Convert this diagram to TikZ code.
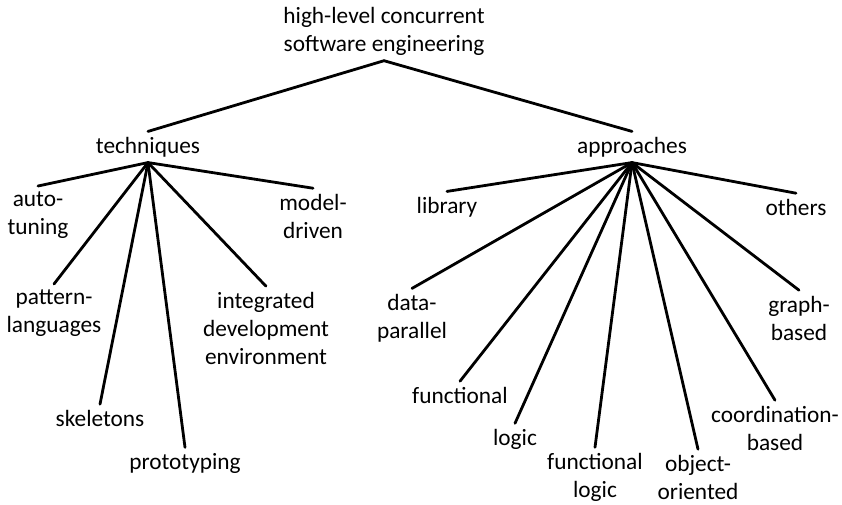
\documentclass[tikz,border=0pt]{standalone}
\usepackage{fontspec}
\setmainfont{Carlito}
\usetikzlibrary{positioning}

\begin{document}
\begin{tikzpicture}[x=0.75pt,y=-0.75pt]

    \tikzstyle{topic} = [align=center, inner sep=4pt, font=\fontsize{17.5}{21}\selectfont]
    \tikzstyle{leaf} = [topic]
    \tikzstyle{branch} = [draw, line width=2.1pt, line cap=round]

    \useasboundingbox (0,0) rectangle (842,505);

    % Root
    \node [topic] (root) at (384,31) {high-level concurrent\\software engineering};

    % Techniques
    \path (root)+(-236,116) node [topic] (tech) {techniques};
    \path (tech)+(-110,68) node [leaf] (auto) {auto-\\tuning};
    \path (tech)+(165,69) node [leaf] (model) {model-\\driven};
    \path (tech)+(-94,166) node [leaf] (pattern) {pattern-\\languages};
    \path (tech)+(118,181) node [leaf] (ide) {integrated\\development\\environment};
    \path (tech)+(-48,271) node [leaf] (skel) {skeletons};
    \path (tech)+(37,316) node [leaf] (proto) {prototyping};

    % Approaches
    \path (root)+(248,116) node [topic] (appr) {approaches};
    \path (appr)+(-185,60) node [leaf] (lib) {library};
    \path (appr)+(164,60) node [leaf] (others) {others};
    \path (appr)+(-220,171) node [leaf] (data) {data-\\parallel};
    \path (appr)+(167,171) node [leaf] (graph) {graph-\\based};
    \path (appr)+(-172,248) node [leaf] (func) {functional};
    \path (appr)+(143,281) node [leaf] (coord) {coordination-\\based};
    \path (appr)+(-117,292) node [leaf] (logic) {logic};
    \path (appr)+(-37,330) node [leaf] (flogic) {functional\\logic};
    \path (appr)+(66,330) node [leaf] (oo) {object-\\oriented};

    \draw[branch] (root.south) -- (tech.north);
    \draw[branch] (root.south) -- (appr.north);

    \foreach \n in {auto,model,pattern,ide,skel,proto}
        \draw[branch] (tech.south) -- (\n.north);

    \foreach \n in {lib,others,data,graph,func,coord,logic,flogic,oo}
        \draw[branch] (appr.south) -- (\n.north);

\end{tikzpicture}
\end{document}
